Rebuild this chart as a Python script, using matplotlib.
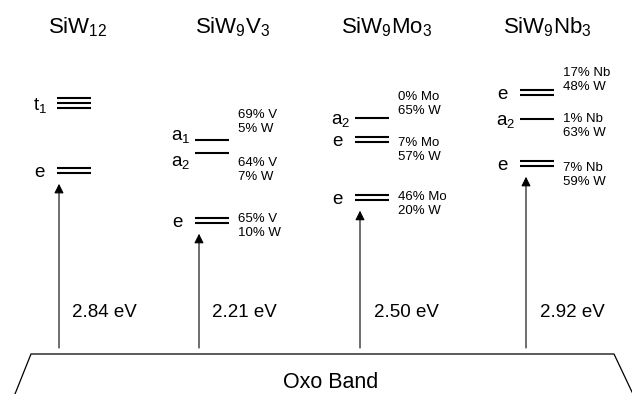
import matplotlib.pyplot as plt

plt.rcParams['font.family'] = ['Liberation Sans', 'DejaVu Sans']
plt.rcParams['mathtext.fontset'] = 'custom'
plt.rcParams['mathtext.rm'] = 'Liberation Sans'
plt.rcParams['mathtext.it'] = 'Liberation Sans'

# data
compounds = [r"SiW$\mathregular{_{12}}$", r"SiW$\mathregular{_9}$V$\mathregular{_3}$",
             r"SiW$\mathregular{_9}$Mo$\mathregular{_3}$", r"SiW$\mathregular{_9}$Nb$\mathregular{_3}$"]
gaps = ["2.84 eV", "2.21 eV", "2.50 eV", "2.92 eV"]

# level energies (eV above oxo band), lowest first
level_E = [[2.87, 3.92], [2.09, 3.14, 3.34], [2.45, 3.35, 3.69], [2.98, 3.67, 4.09]]
level_sym = [["e", "t"], ["e", "a", "a"], ["e", "e", "a"], ["e", "a", "e"]]
level_sub = [["", "1"], ["", "2", "1"], ["", "", "2"], ["", "2", ""]]
level_deg = [[2, 3], [2, 1, 1], [2, 2, 1], [2, 1, 2]]
level_M = [["", ""], ["65% V", "64% V", "69% V"], ["46% Mo", "7% Mo", "0% Mo"],
           ["7% Nb", "1% Nb", "17% Nb"]]
level_W = [["", ""], ["10% W", "7% W", "5% W"], ["20% W", "57% W", "65% W"],
           ["59% W", "63% W", "48% W"]]

# layout (x in pixels, y offsets in pixels, positive = down)
PX = 1 / 64.0
col_x = [74, 212, 372, 537]
title_x = [78, 233, 387, 547]
arrow_x = [59, 199, 360, 526]
half_w = 17
lab_dy = [[0, 0], [0, 7, -6], [0, 0, 0], [0, 0, 0]]
txt_dy = [[0, 0], [6, 17, -18], [6.5, 10, -14], [12, 6.5, -12]]
gap_px = {"e": 12, "a": 5, "t": 10}

fig = plt.figure(figsize=(6.32, 3.94), dpi=100)
ax = fig.add_axes([0, 0, 1, 1])
ax.set_xlim(0, 632)
ax.set_ylim(-40 * PX, 354 * PX)
ax.axis('off')

# oxo band
ax.plot([15, 31, 614, 632], [-40 * PX, 0, 0, -38 * PX], color='black', lw=0.9)
ax.text(331, -34 * PX, "Oxo Band", ha='center', va='baseline', fontsize=15.5)

for i in range(len(compounds)):
    ax.text(title_x[i], 321 * PX, compounds[i], ha='center', va='baseline', fontsize=16)
    left, right = col_x[i] - half_w, col_x[i] + half_w
    for j, E in enumerate(level_E[i]):
        n = level_deg[i][j]
        offs = [(k - (n - 1) / 2) * 5 * PX for k in range(n)]
        ax.hlines([E + o for o in offs], left, right, color='black', lw=1.5)
        lab = level_sym[i][j]
        if level_sub[i][j]:
            lab += r"$\mathregular{_{%s}}$" % level_sub[i][j]
        ax.text(left - gap_px[level_sym[i][j]], E - lab_dy[i][j] * PX, lab,
                ha='right', va='center_baseline', fontsize=13.5)
        if level_M[i][j]:
            ax.text(right + 9, E - txt_dy[i][j] * PX, level_M[i][j] + "\n" + level_W[i][j],
                    ha='left', va='center', fontsize=9.5, linespacing=1.2)
    top = level_E[i][0] - 13.5 * PX
    ax.annotate("", xy=(arrow_x[i], top), xytext=(arrow_x[i], 6 * PX),
                arrowprops=dict(arrowstyle='-|>', color='black', lw=0.8,
                                mutation_scale=14, shrinkA=0, shrinkB=0))
    ax.text(arrow_x[i] + 13.5, 37 * PX, gaps[i], ha='left', va='baseline', fontsize=13.5)

fig.savefig("out.png", dpi=100)
